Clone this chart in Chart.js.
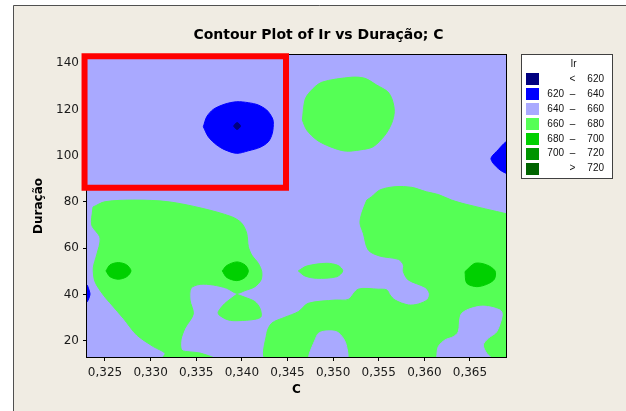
<!DOCTYPE html>
<html><head><meta charset="utf-8">
<script src="https://cdn.jsdelivr.net/npm/chart.js@4"></script>
<style>html,body{margin:0;padding:0;background:#fff;}canvas{display:block;}</style>
</head><body>
<canvas id="c" width="626" height="411"></canvas>
<script>
// ---------- axis / text data ----------
const titleText = 'Contour Plot of Ir vs Duração; C';
const xTitle = 'C';
const yTitle = 'Duração';
const xRange = [0.32303, 0.36895];
const yRange = [13, 143.5];
const xTicks = [0.325, 0.330, 0.335, 0.340, 0.345, 0.350, 0.355, 0.360, 0.365];
const xTickLabels = ['0,325', '0,330', '0,335', '0,340', '0,345', '0,350', '0,355', '0,360', '0,365'];
const yTicks = [20, 40, 60, 80, 100, 120, 140];
const yTickLabels = ['20', '40', '60', '80', '100', '120', '140'];

// ---------- legend levels ----------
const legendTitle = 'Ir';
const levelLow  = [null, 620, 640, 660, 680, 700, 720];
const levelHigh = [620, 640, 660, 680, 700, 720, null];
const levelColors = ['#000080', '#0000FF', '#A9A9FF', '#55FF55', '#00D000', '#009400', '#006400'];

// ---------- contour regions [C, Duração] ----------
const leftGreenArea = [[0.32369,77.8],[0.32500,80.1],[0.32829,80.8],[0.33191,80.1],[0.33560,77.3],[0.33889,73.6],[0.33999,70.8],[0.34053,66.5],[0.34071,60.7],[0.34108,57.1],[0.34180,53.5],[0.34218,49.9],[0.34210,46.3],[0.34144,43.4],[0.34035,41.7],[0.33944,40.5],[0.33834,42.7],[0.33687,44.1],[0.33542,44.4],[0.33443,42.7],[0.33432,37.6],[0.33468,31.6],[0.33377,25.4],[0.33333,20.4],[0.33341,16.0],[0.33432,15.2],[0.33542,14.7],[0.33700,12.3],[0.33130,12.3],[0.33158,14.6],[0.33030,17.5],[0.32848,22.5],[0.32701,29.7],[0.32574,35.5],[0.32482,39.8],[0.32391,45.5],[0.32372,51.5],[0.32409,57.1],[0.32446,64.4],[0.32355,70.0],[0.32365,76.5]];
const topGreenArea = [[0.34663,115.4],[0.34692,124.1],[0.34747,127.6],[0.34875,131.7],[0.35204,133.9],[0.35350,133.4],[0.35478,130.5],[0.35599,127.6],[0.35649,124.1],[0.35671,119.0],[0.35642,114.0],[0.35569,108.9],[0.35441,103.9],[0.35295,102.5],[0.35131,102.0],[0.34966,103.9],[0.34821,106.8],[0.34711,111.1]];
const rightGreenArea = [[0.35369,80.8],[0.35423,82.3],[0.35514,85.2],[0.35679,86.6],[0.35862,86.3],[0.36022,84.4],[0.36153,83.2],[0.36300,80.8],[0.36446,79.1],[0.36899,74.9],[0.36961,74.4],[0.36961,12.0],[0.34273,12.0],[0.34273,23.2],[0.34327,27.6],[0.34473,30.2],[0.34619,32.6],[0.34728,36.2],[0.35021,37.6],[0.35167,37.9],[0.35276,42.3],[0.35496,42.3],[0.35588,42.0],[0.35624,39.8],[0.35679,37.6],[0.35824,35.5],[0.35934,35.9],[0.36037,37.9],[0.36055,40.5],[0.36008,43.1],[0.35824,46.3],[0.35770,49.9],[0.35770,52.8],[0.35715,55.2],[0.35514,56.6],[0.35386,59.2],[0.35331,66.5],[0.35295,70.8],[0.35314,75.1]];
const smallGreenArea1 = [[0.33944,40.1],[0.34035,38.8],[0.34144,36.9],[0.34199,34.0],[0.34210,30.4],[0.34144,29.3],[0.33961,28.7],[0.33852,29.0],[0.33750,31.2],[0.33742,32.6],[0.33816,36.2]];
const smallGreenArea2 = [[0.34619,50.2],[0.34711,52.3],[0.34930,53.5],[0.35057,52.5],[0.35106,50.2],[0.35040,47.7],[0.34821,47.0],[0.34692,48.0]];
const lowHole1 = [[0.34728,12.0],[0.34740,14.5],[0.34802,20.4],[0.34838,23.2],[0.34911,24.2],[0.35040,23.9],[0.35112,21.1],[0.35149,17.5],[0.35149,12.0]];
const lowHole2 = [[0.36136,12.0],[0.36136,13.1],[0.36153,17.5],[0.36227,20.4],[0.36318,21.8],[0.36372,23.9],[0.36399,31.2],[0.36482,33.6],[0.36646,35.0],[0.36830,33.3],[0.36855,31.2],[0.36793,23.9],[0.36701,21.1],[0.36646,18.2],[0.36684,14.6],[0.36742,12.0]];
const blueArea = [[0.33578,112.5],[0.33615,116.8],[0.33687,120.0],[0.33816,122.3],[0.33944,123.3],[0.34071,122.9],[0.34180,121.9],[0.34273,119.7],[0.34327,116.8],[0.34345,114.7],[0.34334,109.7],[0.34290,106.0],[0.34199,103.6],[0.34071,102.1],[0.33944,101.0],[0.33816,102.5],[0.33725,104.6],[0.33632,108.2]];
const blueRightArea = [[0.36950,106.5],[0.36895,106.0],[0.36808,102.5],[0.36731,99.0],[0.36753,96.8],[0.36830,93.8],[0.36895,92.4],[0.36950,92.0]];
const blueLeftArea = [[0.32270,44.5],[0.32303,44.1],[0.32325,42.0],[0.32336,40.2],[0.32325,38.5],[0.32303,36.8],[0.32270,36.3]];
const navyArea = [[0.33909,112.8],[0.33947,114.3],[0.33985,112.8],[0.33947,111.3]];
const peak1 = [[0.32511,50.2],[0.32555,52.8],[0.32646,53.8],[0.32738,52.8],[0.32785,50.2],[0.32738,47.7],[0.32646,46.6],[0.32555,47.7]];
const peak2 = [[0.33786,50.2],[0.33834,52.5],[0.33944,54.1],[0.34035,52.8],[0.34071,50.2],[0.34035,47.4],[0.33944,46.0],[0.33834,47.4]];
const peak3 = [[0.36446,49.9],[0.36556,53.5],[0.36684,52.8],[0.36775,50.2],[0.36767,46.6],[0.36684,44.4],[0.36574,43.4],[0.36465,44.9]];

// highlight box (red rectangle)
const highlightX = [0.32276, 0.34484];
const highlightY = [86.1, 143.0];

// painting order, bottom to top: [region, level index]
const regions = [
  [leftGreenArea, 3], [topGreenArea, 3], [rightGreenArea, 3], [smallGreenArea1, 3], [smallGreenArea2, 3],
  [lowHole1, 2], [lowHole2, 2],
  [blueArea, 1], [blueRightArea, 1], [blueLeftArea, 1],
  [navyArea, 0],
  [peak1, 4], [peak2, 4], [peak3, 4]
];

const pageColor = '#F0ECE3';
const N = regions.length + 1;
const datasets = regions.map(([pts, lvl], i) => {
  const d = pts.map(p => ({x: p[0], y: p[1]}));
  d.push({x: pts[0][0], y: pts[0][1]});
  return {
    data: d, fill: 'shape', backgroundColor: levelColors[lvl], borderColor: levelColors[lvl],
    borderWidth: 1, pointRadius: 0, pointHoverRadius: 0, tension: 0.3, clip: 0, order: N - i
  };
});
datasets.push({
  data: [
    {x: highlightX[0], y: highlightY[1]}, {x: highlightX[1], y: highlightY[1]},
    {x: highlightX[1], y: highlightY[0]}, {x: highlightX[0], y: highlightY[0]},
    {x: highlightX[0], y: highlightY[1]}, {x: highlightX[1], y: highlightY[1]}
  ],
  fill: false, borderColor: '#FF0000', borderWidth: 6, borderJoinStyle: 'miter', borderCapStyle: 'square',
  pointRadius: 0, tension: 0, clip: false, order: 0
});

const framePlugin = {
  id: 'frame',
  beforeDraw(chart) {
    const ctx = chart.ctx;
    ctx.save();
    ctx.fillStyle = '#ffffff'; ctx.fillRect(0, 0, 626, 411);
    ctx.fillStyle = pageColor; ctx.fillRect(13, 5, 613, 406);
    ctx.strokeStyle = '#505050'; ctx.lineWidth = 1;
    ctx.beginPath(); ctx.moveTo(13.5, 411); ctx.lineTo(13.5, 5.5); ctx.lineTo(626, 5.5); ctx.stroke();
    const a = chart.chartArea;
    ctx.fillStyle = levelColors[2];
    ctx.fillRect(a.left, a.top, a.right - a.left, a.bottom - a.top);
    ctx.restore();
  },
  beforeDatasetsDraw(chart) {
    const {ctx, chartArea: a} = chart;
    ctx.save();
    ctx.strokeStyle = '#000'; ctx.lineWidth = 1;
    ctx.strokeRect(a.left - 0.5, a.top - 0.5, a.right - a.left + 1, a.bottom - a.top + 1);
    ctx.restore();
  },
  afterDraw(chart) {
    const ctx = chart.ctx;
    ctx.save();
    ctx.fillStyle = '#ffffff'; ctx.fillRect(522, 55, 90, 123);
    ctx.strokeStyle = '#404040'; ctx.lineWidth = 1; ctx.strokeRect(521.5, 54.5, 91, 124);
    ctx.font = '10px "Liberation Sans"'; ctx.fillStyle = '#111'; ctx.textBaseline = 'middle';
    ctx.textAlign = 'center'; ctx.fillText(legendTitle, 573.5, 64.5);
    levelColors.forEach((c, i) => {
      const cy = 79.2 + i * 14.9;
      ctx.fillStyle = c; ctx.fillRect(526, Math.round(cy - 6), 13, 12);
      ctx.fillStyle = '#111';
      if (levelLow[i] === null) {
        ctx.textAlign = 'center'; ctx.fillText('<', 572.5, cy);
        ctx.textAlign = 'right'; ctx.fillText(String(levelHigh[i]), 604, cy);
      } else if (levelHigh[i] === null) {
        ctx.textAlign = 'center'; ctx.fillText('>', 572.5, cy);
        ctx.textAlign = 'right'; ctx.fillText(String(levelLow[i]), 604, cy);
      } else {
        ctx.textAlign = 'right'; ctx.fillText(String(levelLow[i]), 564, cy);
        ctx.textAlign = 'center'; ctx.fillText('–', 572.5, cy);
        ctx.textAlign = 'right'; ctx.fillText(String(levelHigh[i]), 604, cy);
      }
    });
    ctx.restore();
  }
};

const tickFont = {family: 'DejaVu Sans', size: 12};
new Chart(document.getElementById('c'), {
  type: 'line',
  data: {datasets},
  plugins: [framePlugin],
  options: {
    responsive: false, animation: false, events: [],
    layout: {padding: {left: 11, right: 0, top: 0, bottom: 0}},
    elements: {line: {capBezierPoints: false}},
    plugins: {
      legend: {display: false}, tooltip: {enabled: false},
      title: {display: true, text: titleText, color: '#000',
        font: {family: 'DejaVu Sans', size: 14, weight: 'bold'}, padding: {top: 27, bottom: 11.2}}
    },
    scales: {
      x: {
        type: 'linear', min: xRange[0], max: xRange[1],
        afterBuildTicks: s => { s.ticks = xTicks.map(v => ({value: v})); },
        afterFit: s => { s.height = 54; },
        ticks: {callback: (v, i) => xTickLabels[i], autoSkip: false, maxRotation: 0, font: tickFont, color: '#1a1a1a', padding: 5},
        grid: {display: true, drawOnChartArea: false, drawTicks: true, tickLength: 4, color: '#000'},
        border: {display: false},
        title: {display: true, text: xTitle, color: '#000', font: {family: 'DejaVu Sans', size: 12, weight: 'bold'}, padding: {top: 0, bottom: 14}}
      },
      y: {
        type: 'linear', min: yRange[0], max: yRange[1],
        afterBuildTicks: s => { s.ticks = yTicks.map(v => ({value: v})); },
        afterFit: s => { s.width = 76; },
        ticks: {callback: (v, i) => yTickLabels[i], autoSkip: false, font: tickFont, color: '#1a1a1a', padding: 4},
        grid: {display: true, drawOnChartArea: false, drawTicks: true, tickLength: 4, color: '#000'},
        border: {display: false},
        title: {display: true, text: yTitle, color: '#000', font: {family: 'DejaVu Sans', size: 12, weight: 'bold'}, padding: {top: 21, bottom: 0}}
      },
      yRight: {
        type: 'linear', position: 'right', display: true,
        afterFit: s => { s.width = 120; },
        ticks: {display: false}, grid: {display: false}, border: {display: false}
      }
    }
  }
});
</script>
</body></html>
